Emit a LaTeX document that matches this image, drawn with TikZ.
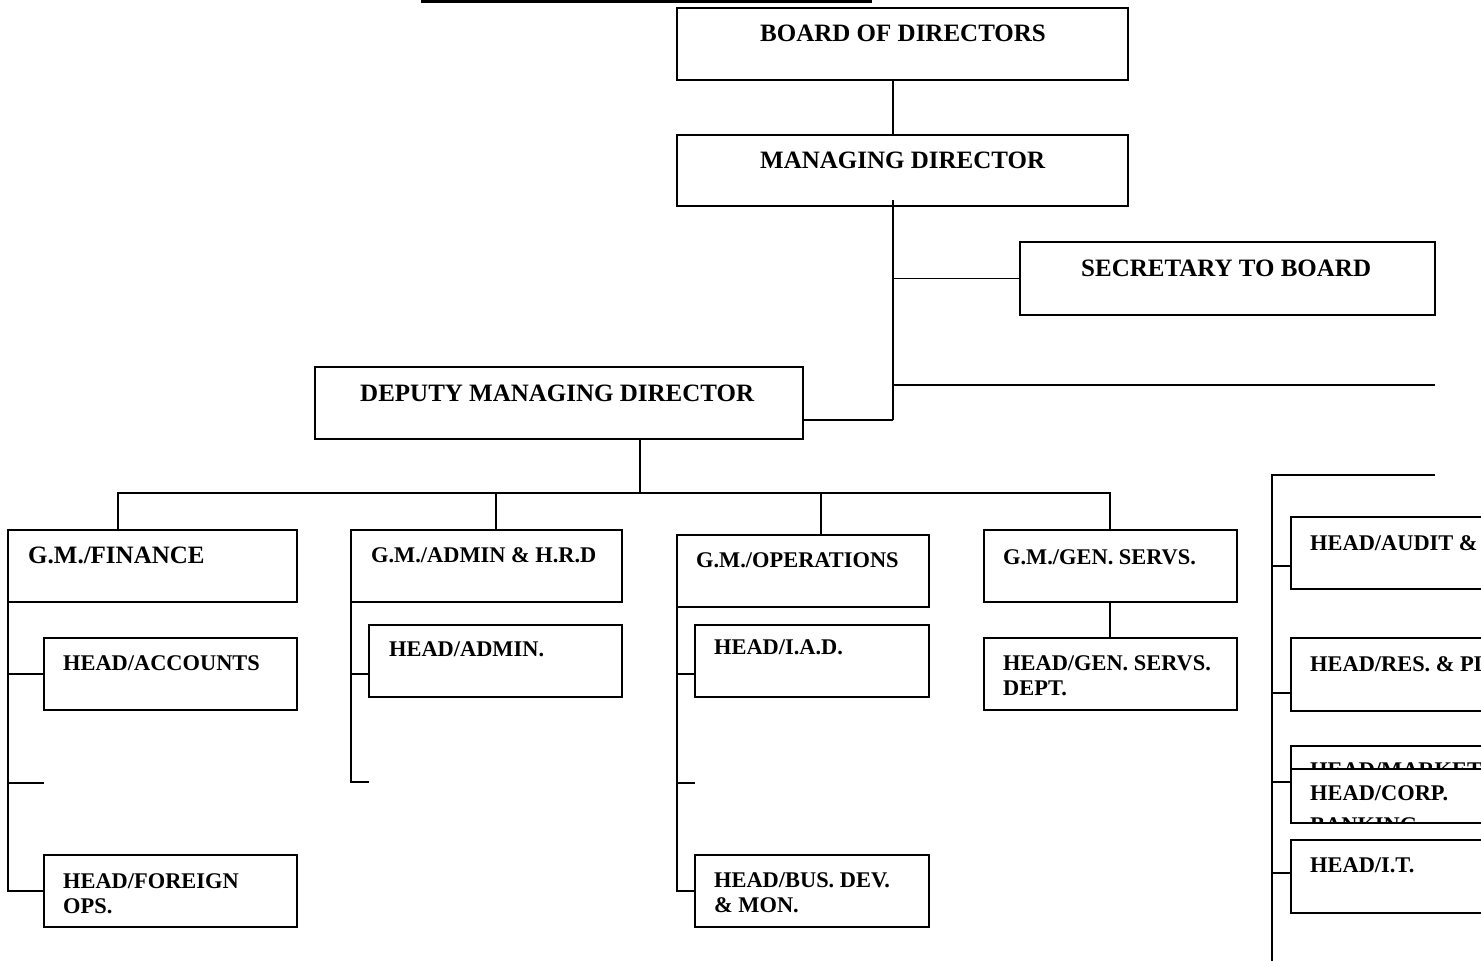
\documentclass[tikz,border=0pt]{standalone}
\usepackage{fontspec}
\setmainfont{Liberation Serif}
\begin{document}
\begin{tikzpicture}[x=1pt,y=-1pt,
  bx/.style={draw, line width=1.8pt, fill=white, inner sep=0pt, outer sep=0pt, anchor=north west},
  ln/.style={line width=1.8pt},
  big/.style={font=\fontsize{25}{30}\selectfont\bfseries, inner sep=0pt, anchor=base west},
  sml/.style={font=\fontsize{22.4}{26}\selectfont\bfseries, inner sep=0pt, anchor=base west}]
\useasboundingbox (0,0) rectangle (1481,961);
\clip (0,0) rectangle (1481,961);

% top rule
\coordinate (ul1) at (421,1.5);
\coordinate (ul2) at (872,1.5);
\draw[line width=3pt] (ul1) -- (ul2);

% boxes
\node[bx,minimum width=451,minimum height=72] (board) at (677,8) {};
\node[bx,minimum width=451,minimum height=71] (md) at (677,135) {};
\node[bx,minimum width=415,minimum height=73] (sec) at (1020,242) {};
\node[bx,minimum width=488,minimum height=72] (dmd) at (315,367) {};
\node[bx,minimum width=289,minimum height=72] (gmfin) at (8,530) {};
\node[bx,minimum width=271,minimum height=72] (gmadm) at (351,530) {};
\node[bx,minimum width=252,minimum height=72] (gmops) at (677,535) {};
\node[bx,minimum width=253,minimum height=72] (gmgen) at (984,530) {};
\node[bx,minimum width=253,minimum height=72] (hacc) at (44,638) {};
\node[bx,minimum width=253,minimum height=72] (hfor) at (44,855) {};
\node[bx,minimum width=253,minimum height=72] (hadm) at (369,625) {};
\node[bx,minimum width=234,minimum height=72] (hiad) at (695,625) {};
\node[bx,minimum width=234,minimum height=72] (hbus) at (695,855) {};
\node[bx,minimum width=253,minimum height=72] (hgen) at (984,638) {};
\node[bx,minimum width=300,minimum height=72] (haud) at (1291,517) {};
\node[bx,minimum width=300,minimum height=73] (hres) at (1291,638) {};
\node[bx,minimum width=300,minimum height=72] (hmkt) at (1291,746) {};
\node[sml] (tmkt) at (1310,777) {HEAD/MARKETING};
\node[bx,minimum width=300,minimum height=54] (hcorp) at (1291,769) {};
\node[bx,minimum width=300,minimum height=73] (hit) at (1291,840) {};

% texts
\node[big] (tboard) at (760,41) {BOARD OF DIRECTORS};
\node[big] (tmd) at (760,168) {MANAGING DIRECTOR};
\node[big] (tsec) at (1081,276) {SECRETARY TO BOARD};
\node[big] (tdmd) at (360,401) {DEPUTY MANAGING DIRECTOR};
\node[big] (tgmfin) at (28,563) {G.M./FINANCE};
\node[sml] (tgmadm) at (371,562) {G.M./ADMIN \& H.R.D};
\node[sml] (tgmops) at (696,567) {G.M./OPERATIONS};
\node[sml] (tgmgen) at (1003,564) {G.M./GEN. SERVS.};
\node[sml] (thacc) at (63,670) {HEAD/ACCOUNTS};
\node[sml] (thadm) at (389,656) {HEAD/ADMIN.};
\node[sml] (thiad) at (714,654) {HEAD/I.A.D.};
\node[sml] (thgen1) at (1003,670) {HEAD/GEN. SERVS.};
\node[sml] (thgen2) at (1003,695) {DEPT.};
\node[sml] (thfor1) at (63,888) {HEAD/FOREIGN};
\node[sml] (thfor2) at (63,913) {OPS.};
\node[sml] (thbus1) at (714,887) {HEAD/BUS. DEV.};
\node[sml] (thbus2) at (714,912) {\& MON.};
\node[sml] (thaud) at (1310,550) {HEAD/AUDIT \&};
\node[sml] (thres) at (1310,671) {HEAD/RES. \& PLANNING};
\node[sml] (thit) at (1310,872) {HEAD/I.T.};
\begin{scope}
  \clip ([xshift=1pt,yshift=-1pt]hcorp.north west) rectangle ([yshift=2pt]hcorp.south east);
  \node[sml] (thcorp1) at (1310,800) {HEAD/CORP.};
  \node[sml] (thcorp2) at (1310,832) {BANKING};
\end{scope}

% connectors
\coordinate (trunkTop) at (893,200);
\coordinate (trunkBot) at (893,420);
\coordinate (longEnd) at (1435,385);
\draw[ln] (board.south -| trunkTop) -- (md.north -| trunkTop);
\draw[ln] (trunkTop) -- (trunkBot);
\draw[ln] (trunkTop |- sec.west) -- (sec.west);
\draw[ln] (trunkTop |- longEnd) -- (longEnd);
\draw[ln] (trunkBot -| dmd.east) -- (trunkBot);

\coordinate (dmdDrop) at (640,493);
\coordinate (b1) at (118,493);
\coordinate (b2) at (496,493);
\coordinate (b3) at (821,493);
\coordinate (b4) at (1110,493);
\draw[ln] (dmd.south -| dmdDrop) -- (dmdDrop);
\draw[ln] (gmfin.north -| b1) -- (b1) -- (b4) -- (gmgen.north -| b4);
\draw[ln] (b2) -- (gmadm.north -| b2);
\draw[ln] (b3) -- (gmops.north -| b3);

% finance branch
\coordinate (f2) at (44,783);
\draw[ln] (gmfin.south west) -- (gmfin.south west |- hfor.west) -- (hfor.west);
\draw[ln] (gmfin.south west |- hacc.west) -- (hacc.west);
\draw[ln] (gmfin.south west |- f2) -- (f2);

% admin branch
\coordinate (a1) at (369,674);
\coordinate (a2) at (369,782);
\draw[ln] (gmadm.south west) -- (gmadm.south west |- a2) -- (a2);
\draw[ln] (gmadm.south west |- a1) -- (a1);

% operations branch
\coordinate (o1) at (695,674);
\coordinate (o2) at (695,783);
\draw[ln] (gmops.south west) -- (gmops.south west |- hbus.west) -- (hbus.west);
\draw[ln] (gmops.south west |- o1) -- (o1);
\draw[ln] (gmops.south west |- o2) -- (o2);

% general services
\coordinate (g) at (1110,620);
\draw[ln] (gmgen.south -| g) -- (hgen.north -| g);

% right column
\coordinate (r0) at (1272,475);
\coordinate (rTop) at (1435,475);
\coordinate (rEnd) at (1272,961);
\coordinate (rt1) at (1291,566);
\coordinate (rt2) at (1291,693);
\coordinate (rt3) at (1291,782);
\coordinate (rt4) at (1291,873);
\draw[ln] (rTop) -- (r0) -- (rEnd);
\draw[ln] (r0 |- rt1) -- (rt1);
\draw[ln] (r0 |- rt2) -- (rt2);
\draw[ln] (r0 |- rt3) -- (rt3);
\draw[ln] (r0 |- rt4) -- (rt4);
\end{tikzpicture}
\end{document}
